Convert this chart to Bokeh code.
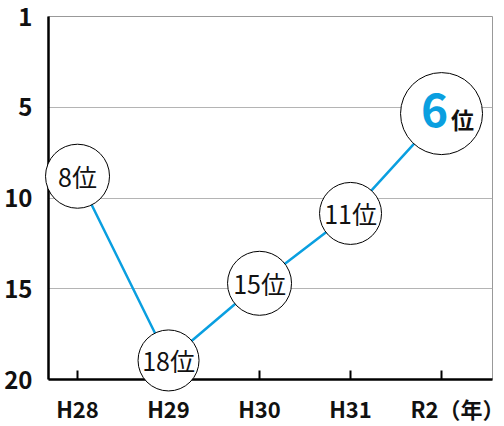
from bokeh.plotting import figure
from bokeh.models import Range1d, FixedTicker, ColumnDataSource
from bokeh.core.properties import value
from bokeh.embed import file_html
from bokeh.resources import INLINE

# ---- data ----
years = ["H28", "H29", "H30", "H31", "R2"]
ranks = [8, 18, 15, 11, 6]
# rank positions as drawn against the vertical axis
rank_pos = [8.8, 18.95, 14.7, 10.85, 5.35]
y_ticks = [0, 5, 10, 15, 20]
y_tick_labels = ["1", "5", "10", "15", "20"]
unit_label = "（年）"

FONT = "Noto Sans CJK JP"
BLUE = "#0a9fe0"

xs = list(range(len(years)))

p = figure(width=504, height=426, output_backend="svg", toolbar_location=None,
           x_range=Range1d(-0.319, 4.56), y_range=Range1d(20, 0),
           min_border_left=48, min_border_right=12, min_border_top=16,
           min_border_bottom=47)
p.background_fill_color = "white"
p.border_fill_color = "white"
p.outline_line_color = "#999999"
p.outline_line_width = 1

# y axis
p.yaxis.ticker = FixedTicker(ticks=y_ticks)
p.yaxis.major_label_overrides = {t: l for t, l in zip(y_ticks, y_tick_labels)}
p.yaxis.major_tick_line_color = None
p.yaxis.minor_tick_line_color = None
p.yaxis.axis_line_color = "black"
p.yaxis.axis_line_width = 2.5
p.yaxis.major_label_text_font = FONT
p.yaxis.major_label_text_font_size = "24px"
p.yaxis.major_label_text_font_style = "bold"
p.yaxis.major_label_text_color = "#111111"
p.yaxis.major_label_standoff = 10

# x axis (the last label carries the unit, padded so "R2" sits on its tick)
x_labels = years[:-1] + ["\u3000\u3000\u3000\u3000" + years[-1] + unit_label]
p.xaxis.ticker = FixedTicker(ticks=xs)
p.xaxis.major_label_overrides = {i: y for i, y in zip(xs, x_labels)}
p.xaxis.major_tick_in = 9
p.xaxis.major_tick_out = 0
p.xaxis.major_tick_line_width = 2
p.xaxis.major_tick_line_color = "black"
p.xaxis.minor_tick_line_color = None
p.xaxis.axis_line_color = "black"
p.xaxis.axis_line_width = 2.5
p.xaxis.major_label_text_font = FONT
p.xaxis.major_label_text_font_size = "22px"
p.xaxis.major_label_text_font_style = "bold"
p.xaxis.major_label_text_color = "#111111"
p.xaxis.major_label_standoff = 12

# grid
p.xgrid.visible = False
p.ygrid.ticker = FixedTicker(ticks=y_ticks[1:-1])
p.ygrid.grid_line_color = "#b4b4b4"
p.ygrid.grid_line_width = 1

src = ColumnDataSource(dict(x=xs, y=rank_pos))
p.line("x", "y", source=src, line_color=BLUE, line_width=2.5)

sizes = [64, 61, 64, 62, 82]
src_c = ColumnDataSource(dict(x=xs, y=rank_pos, size=sizes))
c = p.scatter("x", "y", source=src_c, size="size", fill_color="white",
              line_color="black", line_width=1)
c.level = "overlay"

# labels for the first four
src_t = ColumnDataSource(dict(x=xs[:-1], y=rank_pos[:-1],
                              label=[f"{r}位" for r in ranks[:-1]]))
t = p.text("x", "y", text="label", source=src_t, text_font=value(FONT),
           text_font_size="25px", text_align="center", text_baseline="middle",
           text_color="#111111")
t.level = "overlay"

# highlighted last label
src_h = ColumnDataSource(dict(x=xs[-1:], y=rank_pos[-1:],
                              num=[str(ranks[-1])], suf=["位"]))
t1 = p.text("x", "y", text="num", source=src_h, text_font=value(FONT),
            text_font_size="46px", text_font_style="bold", text_align="center",
            text_baseline="middle", text_color=BLUE, x_offset=-7, y_offset=-4)
t1.level = "overlay"
t2 = p.text("x", "y", text="suf", source=src_h, text_font=value(FONT),
            text_font_size="23px", text_font_style="bold", text_align="center",
            text_baseline="middle", text_color="#111111", x_offset=21, y_offset=5)
t2.level = "overlay"

open("out.html", "w").write(file_html(p, INLINE))
